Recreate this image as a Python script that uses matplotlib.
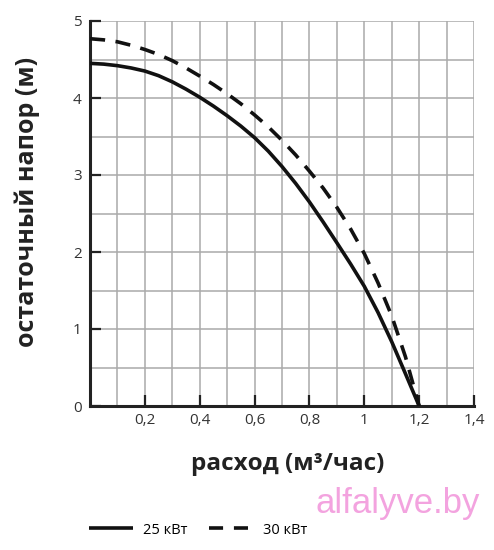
import matplotlib
matplotlib.use("Agg")
import matplotlib.pyplot as plt
from matplotlib.lines import Line2D
from matplotlib.ticker import MultipleLocator, FixedLocator

# Data
flow_25 = [0, 0.05, 0.1, 0.15, 0.2, 0.25, 0.3, 0.35, 0.4, 0.45, 0.5, 0.55, 0.6,
           0.65, 0.7, 0.75, 0.8, 0.85, 0.9, 0.95, 1.0, 1.05, 1.1, 1.15, 1.2]
head_25 = [4.45, 4.44, 4.42, 4.39, 4.35, 4.29, 4.21, 4.115, 4.01, 3.895, 3.77, 3.635, 3.485,
           3.31, 3.11, 2.89, 2.65, 2.39, 2.12, 1.845, 1.555, 1.215, 0.835, 0.42, 0.0]
flow_30 = [0, 0.05, 0.1, 0.15, 0.2, 0.25, 0.3, 0.35, 0.4, 0.45, 0.5, 0.55, 0.6,
           0.65, 0.7, 0.75, 0.8, 0.85, 0.9, 0.95, 1.0, 1.05, 1.1, 1.15, 1.2]
head_30 = [4.77, 4.755, 4.73, 4.685, 4.63, 4.565, 4.485, 4.39, 4.285, 4.175, 4.055, 3.925, 3.78,
           3.625, 3.45, 3.26, 3.05, 2.83, 2.58, 2.30, 1.98, 1.60, 1.17, 0.64, 0.0]
series_labels = ["25 кВт", "30 кВт"]
x_ticks = [0.2, 0.4, 0.6, 0.8, 1.0, 1.2, 1.4]
x_tick_labels = ["0,2", "0,4", "0,6", "0,8", "1", "1,2", "1,4"]
y_ticks = [0, 1, 2, 3, 4, 5]
x_label = "расход (м³/час)"
y_label = "остаточный напор (м)"
watermark = "alfalyve.by"

plt.rcParams['font.family'] = ['Open Sans', 'DejaVu Sans']

fig = plt.figure(figsize=(4.94, 5.5), dpi=100)
ax = fig.add_axes([90/494, 1-406/550, 384/494, 385/550])

ax.set_xlim(0, 1.4)
ax.set_ylim(0, 5)

ax.plot(flow_25, head_25, color='#111111', lw=2.6, solid_capstyle='butt',
        solid_joinstyle='round', zorder=3)
ax.plot(flow_30, head_30, color='#111111', lw=2.6, linestyle=(0, (4.2, 2.9)),
        dash_capstyle='butt', zorder=3)

ax.xaxis.set_minor_locator(MultipleLocator(0.1))
ax.yaxis.set_minor_locator(MultipleLocator(0.5))
ax.grid(which='both', color='#aaaaaa', lw=1.1, zorder=0)
ax.set_axisbelow(True)

ax.xaxis.set_major_locator(FixedLocator(x_ticks))
ax.set_xticklabels(x_tick_labels)
ax.set_yticks(y_ticks)
ax.tick_params(which='major', direction='in', length=8, width=1.6, color='#222222',
               labelsize=11, labelcolor='#333333', pad=5)
ax.tick_params(which='minor', length=0)
ax.tick_params(axis='y', pad=6)

for s in ['top', 'right']:
    ax.spines[s].set_visible(False)
for s in ['left', 'bottom']:
    ax.spines[s].set_linewidth(2.2)
    ax.spines[s].set_color('#222222')

fig.text(288/494, 1-464/550, x_label, ha='center', va='center',
         fontsize=17.5, fontweight='bold', color='#222222')
fig.text(27/494, 1-202/550, y_label, ha='center', va='center', rotation=90,
         fontsize=18, fontweight='bold', color='#222222')

fig.text(398/494, 1-503/550, watermark, ha='center', va='center',
         fontsize=25, color='#f3a3df', family=['Liberation Sans', 'DejaVu Sans'])

h1 = Line2D([], [], color='#111111', lw=2.6, solid_capstyle='butt')
h2 = Line2D([], [], color='#111111', lw=2.6, linestyle=(0, (3.9, 3.0)),
            dash_capstyle='butt')
fig.legend(handles=[h1, h2], labels=series_labels, loc='center',
           bbox_to_anchor=(198/494, 1-530/550),
           ncol=2, frameon=False, fontsize=10.5, handlelength=3.0, columnspacing=1.45,
           handletextpad=0.7)

fig.savefig("out.png", dpi=100)
